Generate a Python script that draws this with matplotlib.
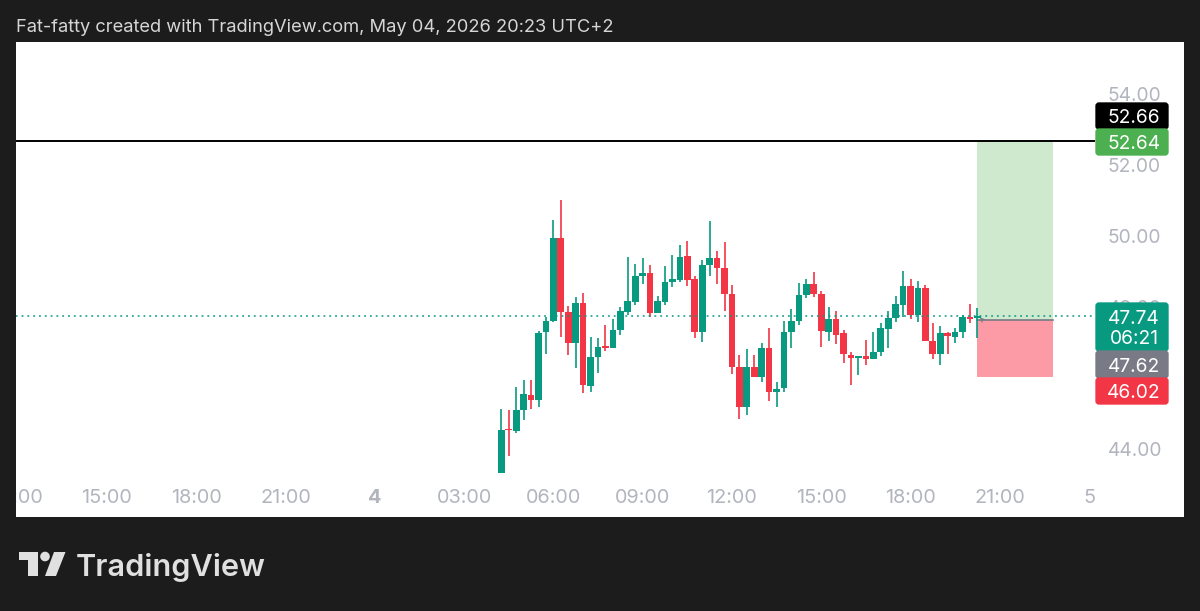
import matplotlib
matplotlib.use("Agg")
import matplotlib.pyplot as plt
from matplotlib.patches import Circle, FancyBboxPatch, Polygon

# candles, 15 min each, first one at 04:15
opens = [43.31, 44.55, 44.49, 45.10, 45.52, 45.38, 47.28, 47.61, 49.93, 47.85, 46.97, 48.10, 45.78,
         46.60, 46.90, 46.84, 47.36, 47.86, 48.15, 48.87, 48.94, 47.84, 48.15, 48.69, 48.77, 49.42,
         48.77, 47.28, 49.19, 49.38, 49.09, 48.37, 46.30, 45.18, 46.30, 46.01, 46.85, 45.60, 45.70,
         47.30, 47.61, 48.33, 48.64, 48.36, 47.30, 47.67, 47.25, 46.65, 46.55, 46.61, 46.54, 46.73,
         47.38, 47.69, 48.06, 48.60, 47.76, 48.54, 47.05, 46.67, 47.25, 47.16, 47.30, 47.72, 47.69]
highs = [45.12, 45.10, 45.74, 45.93, 45.94, 47.33, 47.70, 50.44, 51.01, 48.01, 48.29, 48.39, 47.16,
         47.12, 47.48, 47.67, 47.99, 49.39, 49.20, 49.37, 49.17, 48.30, 49.16, 49.45, 49.75, 49.86,
         48.87, 49.32, 50.41, 49.57, 49.84, 48.61, 46.65, 46.81, 46.64, 46.98, 47.41, 45.89, 47.60,
         47.93, 48.68, 48.79, 48.99, 48.44, 48.00, 47.87, 47.35, 46.74, 46.62, 47.06, 47.28, 47.54,
         47.89, 48.31, 49.01, 48.79, 48.74, 48.62, 47.54, 47.47, 47.30, 47.39, 47.76, 48.09, 47.97]
lows = [43.31, 43.81, 44.44, 44.82, 45.12, 45.18, 46.68, 47.56, 47.16, 46.65, 46.28, 45.57, 45.61,
        46.15, 46.77, 46.84, 47.20, 47.77, 48.06, 48.65, 47.70, 47.84, 48.06, 48.56, 48.69, 48.60,
        47.13, 47.01, 48.87, 48.65, 47.87, 46.12, 44.84, 44.94, 46.01, 45.89, 45.36, 45.19, 45.59,
        46.83, 47.48, 48.24, 48.27, 46.88, 47.03, 46.94, 46.41, 45.79, 46.09, 46.37, 46.53, 46.62,
        46.83, 47.57, 47.71, 47.67, 47.58, 47.03, 46.53, 46.37, 46.66, 46.99, 47.12, 47.54, 47.12]
closes = [44.54, 44.52, 45.10, 45.54, 45.38, 47.26, 47.61, 49.93, 47.85, 46.97, 48.10, 45.80, 46.59,
          46.87, 46.85, 47.35, 47.87, 48.16, 48.87, 48.95, 47.84, 48.17, 48.69, 48.78, 49.41, 48.77,
          47.28, 49.18, 49.38, 49.09, 48.35, 46.30, 45.18, 46.31, 46.02, 46.85, 45.60, 45.68, 47.29,
          47.61, 48.33, 48.64, 48.36, 47.31, 47.67, 47.21, 46.66, 46.55, 46.61, 46.53, 46.73, 47.39,
          47.69, 48.07, 48.58, 47.76, 48.53, 47.05, 46.68, 47.25, 47.17, 47.30, 47.70, 47.67, 47.74]

# levels
last_price = 47.74
line_price = 52.66
entry_price = 47.62
target_price = 52.64
stop_price = 46.02

# 46.00 sits fully behind the price tags in the reference, so it is left out
price_ticks = [44, 48, 50, 52, 54]
time_ticks = [-65, -53, -41, -29, -17, -5, 7, 19, 31, 43, 55, 67, 79]
time_labels = ["12:00", "15:00", "18:00", "21:00", "4", "03:00", "06:00", "09:00", "12:00",
               "15:00", "18:00", "21:00", "5"]

GREEN = "#089981"
RED = "#f23645"
TICK = "#b2b5be"
DARK = "#1c1c1c"

plt.rcParams["font.family"] = ["Inter", "DejaVu Sans"]

fig = plt.figure(figsize=(12, 6.11), dpi=100, facecolor=DARK)
ax = fig.add_axes([16 / 1200, 1 - 517 / 611, 1168 / 1200, 475 / 611], facecolor="white")
ax.set_xlim(-65.23, 91.76)
ax.set_ylim(42.08, 55.46)
for s in ax.spines.values():
    s.set_visible(False)

# Position tool
ax.fill_between([64, 74.1], entry_price, target_price, color="#cfe9cf", lw=0, zorder=1)
ax.fill_between([64, 74.1], stop_price, entry_price, color="#fc9aa5", lw=0, zorder=1)
ax.plot([64, 74.1], [entry_price, entry_price], color="#787b86", lw=1.2, zorder=2)

# Candles
for i in range(len(opens)):
    col = GREEN if closes[i] >= opens[i] else RED
    ax.vlines(i, lows[i], highs[i], color=col, lw=1.2, zorder=3)
    ax.bar(i, abs(closes[i] - opens[i]), bottom=min(opens[i], closes[i]), width=0.9,
           color=col, lw=0, zorder=3)

ax.plot([-66, 79.7], [line_price, line_price], color="black", lw=1.4, zorder=4)
ax.plot([-66, 79.7], [last_price, last_price], color=GREEN, lw=1.1, ls=(0, (1.2, 2.6)), zorder=4)

# small cursor mark next to the last candle
ax.annotate("", xy=(64.1, 47.76), xytext=(64.9, 47.58), zorder=5,
            arrowprops=dict(arrowstyle="->", color="#787b86", lw=0.9, mutation_scale=6))

ax.yaxis.tick_right()
ax.set_yticks(price_ticks)
ax.set_yticklabels(["%.2f" % p for p in price_ticks])
ax.tick_params(axis="y", length=0, pad=-55, labelsize=13.8, labelcolor=TICK)
ax.set_xticks(time_ticks)
ax.set_xticklabels(time_labels)
ax.tick_params(axis="x", length=0, pad=-20, labelsize=14.3, labelcolor=TICK)
for lbl in ax.get_xticklabels():
    lbl.set_clip_box(ax.bbox)
    lbl.set_clip_on(True)
    if lbl.get_text() == "4":
        lbl.set_fontweight("bold")

# overlay in pixel coordinates for the header, price tags and logo
ov = fig.add_axes([0, 0, 1, 1], facecolor="none")
ov.set_xlim(0, 1200)
ov.set_ylim(611, 0)
ov.axis("off")

ov.text(16, 28, "Fat-fatty created with TradingView.com, May 04, 2026 20:23 UTC+2",
        color="#d6d6d6", fontsize=13.2, va="center", ha="left")

tags = [(103, 129, "black", ["52.66"]),
        (129, 155, "#4caf50", ["52.64"]),
        (303, 351, GREEN, ["47.74", "06:21"]),
        (351, 378, "#787b86", ["47.62"]),
        (378, 404, RED, ["46.02"])]
for top, bottom, col, texts in tags:
    ov.add_patch(FancyBboxPatch((1097, top + 1), 70, bottom - top - 2, boxstyle="round,pad=0,rounding_size=2",
                                fc=col, ec=col, lw=2.4, mutation_aspect=1))
    mid = (top + bottom) / 2
    for n, t in enumerate(texts):
        y = mid + 21 * (n - (len(texts) - 1) / 2)
        ov.text(1134, y, t, color="white", fontsize=13.8, ha="center", va="center_baseline")

# TradingView logo
LOGO = "#e0e0e0"
ov.add_patch(Polygon([(18.5, 552), (37.5, 552), (37.5, 576), (28, 576), (28, 559.5), (18.5, 559.5)], fc=LOGO, lw=0))
ov.add_patch(Circle((45, 556.5), 4.8, fc=LOGO, lw=0))
ov.add_patch(Polygon([(54, 552), (65.5, 552), (56, 576), (45, 576)], fc=LOGO, lw=0))
ov.text(76, 576, "TradingView", color=LOGO, fontsize=22.1, fontweight="semibold", ha="left", va="baseline")

fig.savefig("out.png", dpi=100, facecolor=fig.get_facecolor())
